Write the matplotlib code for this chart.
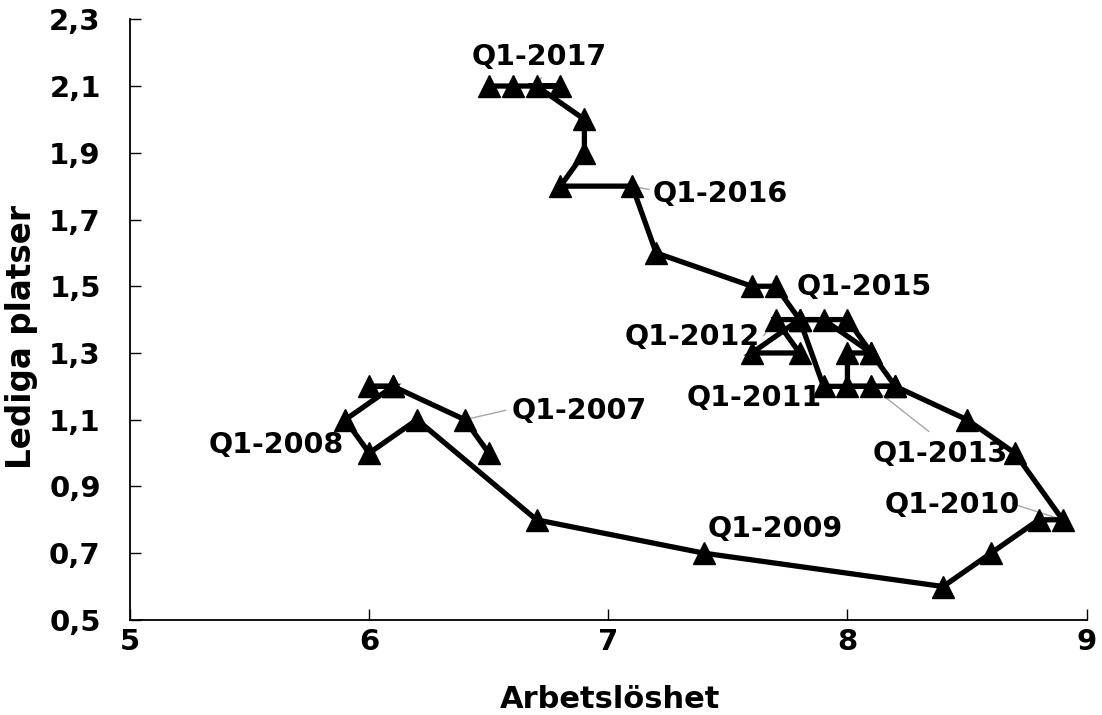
import numpy as np
import matplotlib
matplotlib.use("Agg")
import matplotlib.pyplot as plt

plt.rcParams['font.family'] = ['DejaVu Sans']
plt.rcParams['font.weight'] = 'bold'

# path of the curve, quarter by quarter (arbetslöshet, lediga platser)
arbetsloshet = [6.5, 6.4, 6.1, 6.0, 6.1, 5.9, 6.0, 6.2, 6.7, 7.4,
                8.4, 8.6, 8.8, 8.9, 8.7, 8.5, 8.2, 7.9, 7.8, 7.6,
                7.8, 7.7, 7.9, 8.1, 8.2, 8.1, 8.0, 8.0, 8.1, 8.0,
                7.8, 7.7, 7.6, 7.2, 7.1, 6.8, 6.9, 6.9, 6.7, 6.8,
                6.6, 6.5]
lediga = [1.0, 1.1, 1.2, 1.2, 1.2, 1.1, 1.0, 1.1, 0.8, 0.7,
          0.6, 0.7, 0.8, 0.8, 1.0, 1.1, 1.2, 1.2, 1.4, 1.3,
          1.3, 1.4, 1.4, 1.3, 1.2, 1.2, 1.2, 1.3, 1.3, 1.4,
          1.4, 1.5, 1.5, 1.6, 1.8, 1.8, 1.9, 2.0, 2.1, 2.1,
          2.1, 2.1]

x_ticks = [5, 6, 7, 8, 9]
y_ticks = [0.5, 0.7, 0.9, 1.1, 1.3, 1.5, 1.7, 1.9, 2.1, 2.3]
y_ticklabels = ['0,5', '0,7', '0,9', '1,1', '1,3', '1,5', '1,7', '1,9', '2,1', '2,3']

# data labels: text, point, text position, leader line end (None = no leader)
labels = [
    ('Q1-2007', (6.40, 1.10), (6.88, 1.125), (6.57, 1.128)),
    ('Q1-2008', (6.00, 1.00), (5.61, 1.025), None),
    ('Q1-2009', (7.40, 0.70), (7.70, 0.772), None),
    ('Q1-2010', (8.90, 0.80), (8.44, 0.845), (8.69, 0.848)),
    ('Q1-2011', (7.90, 1.20), (7.61, 1.165), None),
    ('Q1-2012', (7.70, 1.40), (7.35, 1.347), (7.65, 1.352)),
    ('Q1-2013', (8.10, 1.20), (8.39, 0.998), (8.34, 1.065)),
    ('Q1-2015', (7.70, 1.50), (8.07, 1.497), None),
    ('Q1-2016', (7.10, 1.80), (7.47, 1.775), (7.17, 1.790)),
    ('Q1-2017', (6.70, 2.10), (6.71, 2.186), (6.72, 2.125)),
]

fig = plt.figure(figsize=(11.02, 7.15), dpi=100)
ax = fig.add_axes([0.118, 0.133, 0.868, 0.840])

ax.plot(arbetsloshet, lediga, color='black', lw=3.8, marker='^', ms=15.5,
        solid_joinstyle='miter', zorder=3)

for text, pt, pos, lead in labels:
    if lead is not None:
        ax.plot([pt[0], lead[0]], [pt[1], lead[1]], color='#a6a6a6', lw=1.0, zorder=2)
    ax.text(pos[0], pos[1], text, fontsize=20.5, fontweight='bold',
            ha='center', va='center', zorder=4)

ax.set_xlim(5, 9)
ax.set_ylim(0.5, 2.3)
ax.set_xticks(x_ticks)
ax.set_xticklabels([str(v) for v in x_ticks])
ax.set_yticks(y_ticks)
ax.set_yticklabels(y_ticklabels)

for s in ['top', 'right']:
    ax.spines[s].set_visible(False)
for s in ['left', 'bottom']:
    ax.spines[s].set_linewidth(1.3)
    ax.spines[s].set_color('black')

ax.tick_params(axis='y', direction='in', length=8, width=1, labelsize=21, pad=21)
ax.tick_params(axis='x', direction='in', length=8, width=1, labelsize=21, pad=6)
for lab in ax.get_xticklabels() + ax.get_yticklabels():
    lab.set_fontweight('bold')

ax.set_xlabel('Arbetslöshet', fontsize=22, fontweight='bold')
ax.set_ylabel('Lediga platser', fontsize=23.5, fontweight='bold')
ax.xaxis.set_label_coords(0.502, -0.133)
ax.yaxis.set_label_coords(-0.113, 0.471)
ax.xaxis.label.set_va('center')
ax.yaxis.label.set_va('center')

fig.savefig('out.png', dpi=100)
